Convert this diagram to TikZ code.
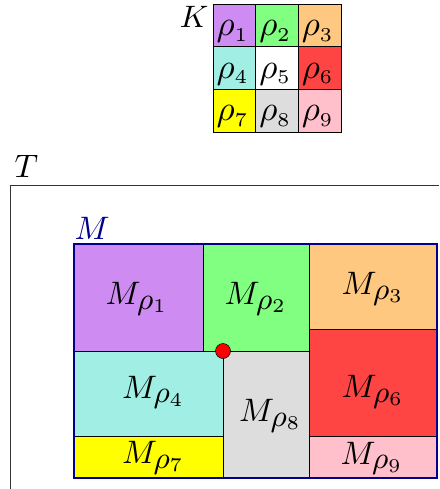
\documentclass[tikz,border=0pt]{standalone}
\usepackage{fix-cm}
\newcommand{\Mr}[1]{$M_{\mbox{\fontsize{9.4}{10}\selectfont$\rho_{\mbox{\fontsize{6}{6}\selectfont #1}}$}}$}
\newcommand{\rr}[1]{$\rho_{\mbox{\fontsize{5.6}{6}\selectfont #1}}$}
\begin{document}
\begin{tikzpicture}[x=1pt,y=-1pt,
  cell/.style={draw=black,line width=0.9pt},
  gl/.style={inner sep=0pt,scale=3.5,transform shape,anchor=base},
  kl/.style={inner sep=0pt,scale=3.1,transform shape,anchor=base east},
  big/.style={inner sep=0pt,scale=3.25,transform shape,anchor=base west}]
\definecolor{cP}{RGB}{206,140,242}
\definecolor{cG}{RGB}{128,255,128}
\definecolor{cO}{RGB}{255,200,128}
\definecolor{cC}{RGB}{160,238,228}
\definecolor{cR}{RGB}{255,68,68}
\definecolor{cY}{RGB}{255,255,0}
\definecolor{cGr}{RGB}{221,221,221}
\definecolor{cPk}{RGB}{255,192,203}
\definecolor{navy}{RGB}{0,0,140}
\useasboundingbox (0,0) rectangle (439,489);
% K grid
\foreach \c/\i/\j/\n in {cP/0/0/1,cG/1/0/2,cO/2/0/3,cC/0/1/4,white/1/1/5,cR/2/1/6,cY/0/2/7,cGr/1/2/8,cPk/2/2/9}{
  \path[cell,fill=\c] ({213.3+42.6*\i},{4.3+42.6*\j}) rectangle ({213.3+42.6*(\i+1)},{4.3+42.6*(\j+1)});
  \node[gl] (k\n) at ({213.3+42.6*(\i+0.5)-2},{4.3+42.6*\j+31.5}) {\rr{\n}};
}
\node[kl] (K) at (209,28) {$K$};
% T frame
\draw[line width=0.8pt,black!80] (439,185) -- (10,185) -- (10,489);
\node[big] (T) at (14,177.5) {$T$};
% M regions
\path[cell,fill=cP] (74,244) rectangle (203,351);
\path[cell,fill=cG] (203,244) rectangle (309,351);
\path[cell,fill=cO] (309,244) rectangle (437,329);
\path[cell,fill=cC] (74,351) rectangle (223,436);
\path[cell,fill=cR] (309,329) rectangle (437,436);
\path[cell,fill=cY] (74,436) rectangle (223,478);
\path[cell,fill=cGr] (223,351) rectangle (309,478);
\path[cell,fill=cPk] (309,436) rectangle (437,478);
\draw[navy,line width=2.4pt] (74,244) rectangle (437,478);
\node[big] (m1) at (105,304.5) {\Mr{1}};
\node[big] (m2) at (224,304.5) {\Mr{2}};
\node[big] (m3) at (341,294.5) {\Mr{3}};
\node[big] (m4) at (121.5,398) {\Mr{4}};
\node[big] (m6) at (341,397.5) {\Mr{6}};
\node[big] (m7) at (121.5,463.5) {\Mr{7}};
\node[big] (m8) at (238.5,421.5) {\Mr{8}};
\node[big] (m9) at (340,464) {\Mr{9}};
\node[big,text=navy] (M) at (74,239.5) {$M$};
\node[circle,fill=red,draw=black,line width=0.5pt,minimum size=15pt,inner sep=0pt] (dot) at (223,351) {};
\end{tikzpicture}
\end{document}
